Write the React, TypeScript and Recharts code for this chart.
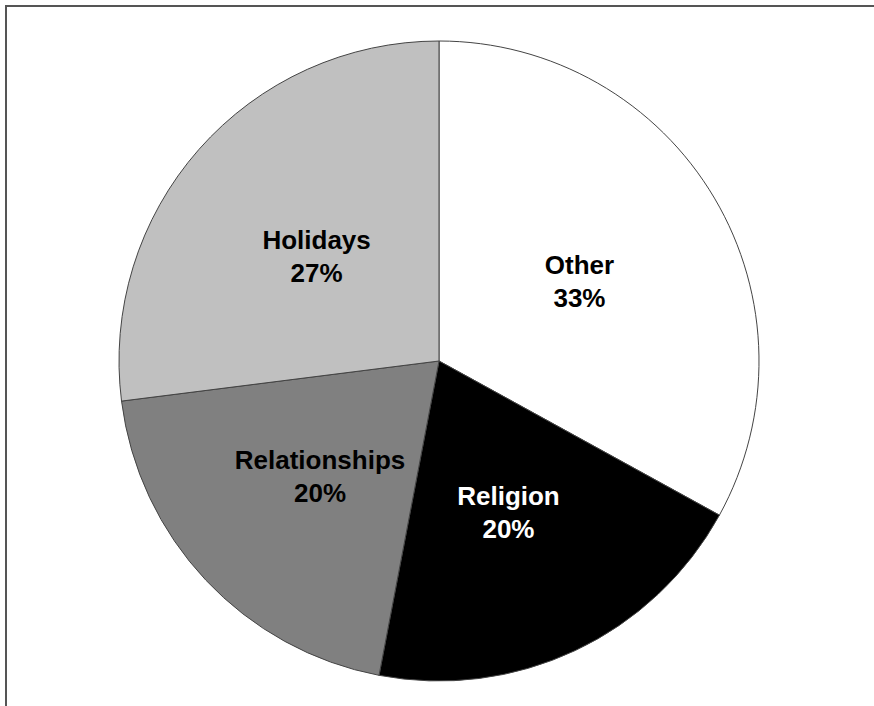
import { PieChart, Pie, Cell } from 'recharts';

const categories = ['Other', 'Religion', 'Relationships', 'Holidays'];
const shares = [33, 20, 20, 27];
const fills = ['#ffffff', '#000000', '#808080', '#c0c0c0'];
const labelColors = ['#000000', '#ffffff', '#000000', '#000000'];

const data = categories.map((name, i) => ({ name, value: shares[i] }));

const RADIAN = Math.PI / 180;

function renderLabel(props: any) {
  const { cx, cy, midAngle, outerRadius, index } = props;
  const r = outerRadius * 0.51;
  const x = cx + r * Math.cos(-midAngle * RADIAN);
  const y = cy + r * Math.sin(-midAngle * RADIAN);
  return (
    <text
      x={x}
      y={y}
      textAnchor="middle"
      fill={labelColors[index]}
      fontFamily="'Liberation Sans', Arial, sans-serif"
      fontWeight="bold"
      fontSize={26}
    >
      <tspan x={x} dy={-4}>{categories[index]}</tspan>
      <tspan x={x} dy={33}>{`${shares[index]}%`}</tspan>
    </text>
  );
}

export default function App() {
  return (
    <div style={{ position: 'absolute', left: 0, top: 0, width: 874, height: 706, background: '#fff', overflow: 'hidden' }}>
      <div
        style={{
          position: 'absolute',
          left: 5,
          top: 5,
          width: 900,
          height: 900,
          borderTop: '2px solid #555',
          borderLeft: '2px solid #555',
        }}
      />
      <div style={{ position: 'absolute', left: 0, top: 0 }}>
        <PieChart width={874} height={706} margin={{ top: 0, right: 0, bottom: 0, left: 0 }}>
          <Pie
            data={data}
            dataKey="value"
            cx={439}
            cy={361}
            outerRadius={320}
            startAngle={90}
            endAngle={-270}
            stroke="#444"
            strokeWidth={1}
            label={renderLabel}
            labelLine={false}
            isAnimationActive={false}
          >
            {data.map((d, i) => (
              <Cell key={d.name} fill={fills[i]} />
            ))}
          </Pie>
        </PieChart>
      </div>
    </div>
  );
}
